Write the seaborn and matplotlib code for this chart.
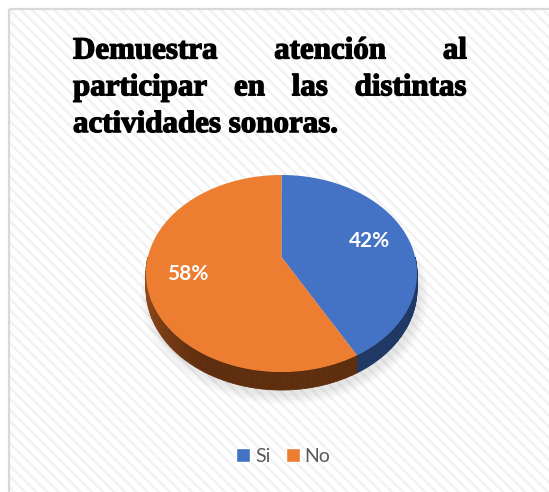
import numpy as np
import matplotlib.pyplot as plt
import matplotlib.patheffects as pe
from matplotlib.colors import to_rgb
import seaborn as sns
from matplotlib.patches import Rectangle, Patch

# data
labels = ['Si', 'No']
values = [42, 58]
title_lines = [['Demuestra', 'atención', 'al'],
               ['participar', 'en', 'las', 'distintas'],
               ['actividades sonoras.']]

sns.set_theme(style='white')
colors = sns.color_palette(['#4472C4', '#ED7D31'])
side_dark = ['#1f3864', '#5f2e0e']
side_light = ['#24406f', '#a5531f']
plt.rcParams['hatch.linewidth'] = 1.8

W, H = 549, 492
fig = plt.figure(figsize=(W / 100, H / 100), dpi=100)
ax = fig.add_axes([0, 0, 1, 1])
ax.set_xlim(0, W)
ax.set_ylim(H, 0)
ax.axis('off')

# striped chart area + light gray frame
ax.add_patch(Rectangle((8.5, 8.5), W, H, facecolor='white', edgecolor='#f2f2f2',
                       hatch='\\\\\\', lw=0, zorder=0))
ax.add_patch(Rectangle((8.5, 8.5), W, H, facecolor='none', edgecolor='#d9d9d9',
                       lw=1.6, zorder=1))

# title, justified like in the word document
def justify(words, y, x0, x1):
    texts = [ax.text(x0, y, w, ha='left', va='baseline', fontsize=22.3,
                     family='Liberation Serif', weight='bold', color='black',
                     path_effects=[pe.withStroke(linewidth=0.9, foreground='black')])
             for w in words]
    if len(texts) == 1:
        return
    r = fig.canvas.get_renderer()
    widths = [t.get_window_extent(r).width for t in texts]
    gap = (x1 - x0 - sum(widths)) / (len(texts) - 1)
    x = x0
    for t, wd in zip(texts, widths):
        t.set_x(x)
        x += wd + gap

for i, line in enumerate(title_lines):
    justify(line, 58.5 + i * 36.8, 73, 467)

# 3d-ish pie: circle seen in perspective
cx, cy = 281.5, 273.5
A, B, E = 133.6, 98.5, 16.5
c = E / B
depth = 15.0

def proj(phi, r=1.0, drop=0.0):
    u, w = r * np.cos(phi), r * np.sin(phi)
    den = 1 + c * w
    return cx + A * u / den, cy - (B * w + E) / den + drop / den

frac = np.array(values) / np.sum(values)
starts = np.pi / 2 - 2 * np.pi * np.concatenate([[0], np.cumsum(frac)[:-1]])
ends = starts - 2 * np.pi * frac

# soft shadow under the pie
t = np.linspace(0, 2 * np.pi, 200)
for k in range(6):
    sx, sy = proj(t, 1.0 + 0.012 * k, depth + 2)
    ax.fill(sx + 3, sy + 3, color='gray', alpha=0.03, lw=0, zorder=1.5)

# side walls (only the front half shows)
for i in range(len(values)):
    a = max(ends[i], -np.pi)
    b = min(starts[i], 0)
    if a >= b:
        continue
    edges = np.linspace(a, b, 60)
    c0 = np.array(to_rgb(side_light[i]))
    c1 = np.array(to_rgb(side_dark[i]))
    for p0, p1 in zip(edges[:-1], edges[1:]):
        seg = np.linspace(p0, p1, 4)
        tx, ty = proj(seg)
        bx, by = proj(seg[::-1], drop=depth)
        m = np.clip((0.5 * (p0 + p1) + np.pi) / (np.pi / 3), 0, 1)
        col = c0 * (1 - m) + c1 * m
        ax.fill(np.r_[tx, bx], np.r_[ty, by], color=col, ec=col, lw=0.6, zorder=2)

# top faces
for i in range(len(values)):
    seg = np.linspace(starts[i], ends[i], 150)
    ax_, ay_ = proj(seg)
    px, py = proj(0, 0.0)
    ax.fill(np.r_[px, ax_], np.r_[py, ay_], color=colors[i], lw=0, zorder=3)
    mx, my = proj(0.5 * (starts[i] + ends[i]), 0.7)
    ax.text(mx, my, f'{values[i]}%', ha='center', va='center', color='white',
            fontsize=15, weight='bold', family='Lato', zorder=4)

handles = [Patch(facecolor=colors[i], label=labels[i]) for i in range(len(labels))]
leg = ax.legend(handles=handles, loc='center', bbox_to_anchor=(283.4, 456.3),
                bbox_transform=ax.transData, ncol=2, frameon=False, fontsize=14,
                handlelength=0.72, handleheight=0.72, handletextpad=0.26,
                columnspacing=0.76, borderpad=0, borderaxespad=0)
for txt in leg.get_texts():
    txt.set_color('#595959')
    txt.set_family('Lato')

fig.savefig('out.png', dpi=100)
